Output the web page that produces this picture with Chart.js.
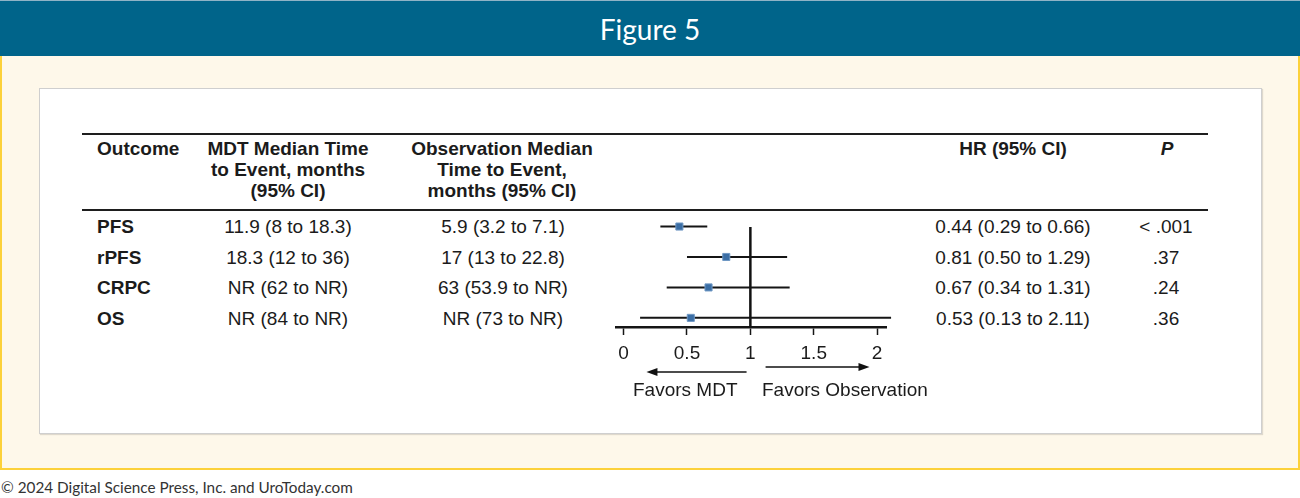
<!DOCTYPE html>
<html>
<head>
<meta charset="utf-8">
<script src="https://cdn.jsdelivr.net/npm/chart.js@4.4.1/dist/chart.umd.min.js"></script>
<style>
  body { margin: 0; width: 1300px; height: 498px; background: #fff; position: relative; overflow: hidden; font-family: "Liberation Sans", Arial, sans-serif; color: #1b1b1b; }
  .hdr { position: absolute; left: 0; top: 0; width: 1300px; height: 56px; background: #00648a; border-top: 1px solid #8fb3c6; box-sizing: border-box; }
  .hdr span { position: absolute; left: 0; width: 1300px; top: 11px; text-align: center; color: #fff; font-family: Lato, "Open Sans", sans-serif; font-size: 28px; line-height: 34px; }
  .frame { position: absolute; left: 0; top: 56px; width: 1300px; height: 414px; background: #fef8ea; border: 2px solid #fcd13a; border-top: none; box-sizing: border-box; }
  .panel { position: absolute; left: 39px; top: 88px; width: 1223px; height: 346px; background: #fff; border: 1px solid #cfcfcf; box-shadow: 1px 1px 1px rgba(0,0,0,0.12); box-sizing: border-box; }
  .rule { position: absolute; left: 82px; width: 1126px; height: 2px; background: #1e1e1e; }
  .t { position: absolute; font-size: 19px; line-height: 22px; white-space: nowrap; }
  .b { font-weight: bold; }
  .c { text-align: center; width: 240px; }
  .foot { position: absolute; left: 1px; top: 478px; font-family: Lato, "Open Sans", sans-serif; font-size: 15.3px; color: #333; white-space: nowrap; }
  #forest { position: absolute; left: 600px; top: 200px; }
</style>
</head>
<body>
<div class="hdr"><span>Figure 5</span></div>
<div class="frame"></div>
<div class="panel"></div>
<div class="rule" style="top:133px"></div>
<div class="rule" style="top:209px"></div>
<div id="table"></div>
<canvas id="forest" width="320" height="210"></canvas>
<div class="t" style="left:633px; top:379px;">Favors MDT</div>
<div class="t" style="left:762px; top:379px;">Favors Observation</div>
<div class="foot">© 2024 Digital Science Press, Inc. and UroToday.com</div>
<script>
const outcomes = ['PFS', 'rPFS', 'CRPC', 'OS'];
const mdtMedian = ['11.9 (8 to 18.3)', '18.3 (12 to 36)', 'NR (62 to NR)', 'NR (84 to NR)'];
const obsMedian = ['5.9 (3.2 to 7.1)', '17 (13 to 22.8)', '63 (53.9 to NR)', 'NR (73 to NR)'];
const hr = [0.44, 0.81, 0.67, 0.53];
const ciLow = [0.29, 0.50, 0.34, 0.13];
const ciHigh = [0.66, 1.29, 1.31, 2.11];
const pValues = ['< .001', '.37', '.24', '.36'];
const xTicks = [0, 0.5, 1, 1.5, 2];
const nullEffect = 1;

// table text
const table = document.getElementById('table');
function addText(txt, left, top, cls, extra) {
  const d = document.createElement('div');
  d.className = 't ' + (cls || '');
  d.style.left = left + 'px';
  d.style.top = top + 'px';
  if (extra) Object.assign(d.style, extra);
  d.innerHTML = txt;
  table.appendChild(d);
}
addText('Outcome', 97, 138, 'b');
addText('MDT Median Time<br>to Event, months<br>(95% CI)', 288 - 120, 138, 'b c', { lineHeight: '21px' });
addText('Observation Median<br>Time to Event,<br>months (95% CI)', 502 - 120, 138, 'b c', { lineHeight: '21px' });
addText('HR (95% CI)', 1013 - 120, 138, 'b c');
addText('<i>P</i>', 1167 - 120, 138, 'b c');

const rowPitch = 30.6;
outcomes.forEach((o, i) => {
  const top = 227 + i * rowPitch - 11;
  addText(o, 97, top, 'b');
  addText(mdtMedian[i], 288 - 120, top, 'c');
  addText(obsMedian[i], 503 - 120, top, 'c');
  addText(hr[i].toFixed(2) + ' (' + ciLow[i].toFixed(2) + ' to ' + ciHigh[i].toFixed(2) + ')', 1013 - 120, top, 'c');
  addText(pValues[i], 1166 - 120, top, 'c');
});

// reference line + direction arrows
const forestExtras = {
  id: 'forestExtras',
  beforeDatasetsDraw(chart) {
    const { ctx, chartArea, scales } = chart;
    const x = scales.x.getPixelForValue(nullEffect);
    ctx.save();
    ctx.strokeStyle = '#111';
    ctx.lineWidth = 2.5;
    ctx.beginPath();
    ctx.moveTo(x, chartArea.top + 2);
    ctx.lineTo(x, chartArea.bottom);
    ctx.stroke();
    ctx.restore();
  },
  afterDraw(chart) {
    const { ctx, chartArea, scales } = chart;
    const sx = scales.x;
    function arrow(from, to, y) {
      const x1 = sx.getPixelForValue(from), x2 = sx.getPixelForValue(to);
      const dir = Math.sign(x2 - x1);
      ctx.beginPath();
      ctx.moveTo(x1, y);
      ctx.lineTo(x2 - dir * 8, y);
      ctx.stroke();
      ctx.beginPath();
      ctx.moveTo(x2, y);
      ctx.lineTo(x2 - dir * 11, y - 4);
      ctx.lineTo(x2 - dir * 11, y + 4);
      ctx.closePath();
      ctx.fill();
    }
    ctx.save();
    ctx.strokeStyle = '#111';
    ctx.fillStyle = '#111';
    ctx.lineWidth = 1.6;
    arrow(0.97, 0.18, chartArea.bottom + 45);
    arrow(1.12, 1.94, chartArea.bottom + 40);
    ctx.restore();
  }
};

const ciSets = outcomes.map((o, i) => ({
  type: 'line',
  label: o,
  data: [{ x: ciLow[i], y: i }, { x: ciHigh[i], y: i }],
  borderColor: '#151515',
  borderWidth: 2,
  pointRadius: 0,
  clip: false,
  order: 2
}));

new Chart(document.getElementById('forest'), {
  type: 'scatter',
  data: {
    datasets: [
      {
        label: 'HR',
        data: hr.map((v, i) => ({ x: v, y: i })),
        pointStyle: 'rect',
        pointRadius: 5,
        backgroundColor: '#3b6ea5',
        borderColor: '#6f98c4',
        borderWidth: 1,
        clip: false,
        order: 1
      },
      ...ciSets
    ]
  },
  options: {
    responsive: false,
    animation: false,
    layout: { autoPadding: false, padding: { left: 16, right: 34, top: 25, bottom: 43 } },
    plugins: { legend: { display: false }, tooltip: { enabled: false } },
    scales: {
      x: {
        type: 'linear',
        min: -0.06,
        max: 2.07,
        afterBuildTicks: (scale) => { scale.ticks = xTicks.map(v => ({ value: v })); },
        afterFit: (scale) => { scale.height = 40; },
        grid: { drawOnChartArea: false, drawTicks: true, tickLength: 8, tickColor: '#151515', tickWidth: 1.5 },
        border: { display: true, color: '#151515', width: 2.5 },
        ticks: {
          padding: 7,
          color: '#1b1b1b',
          font: { family: 'Liberation Sans', size: 19 },
          callback: (v) => String(v),
          maxRotation: 0,
          autoSkip: false
        }
      },
      y: { type: 'linear', display: false, reverse: true, min: -0.05, max: 3.3 }
    }
  },
  plugins: [forestExtras]
});
</script>
</body>
</html>
